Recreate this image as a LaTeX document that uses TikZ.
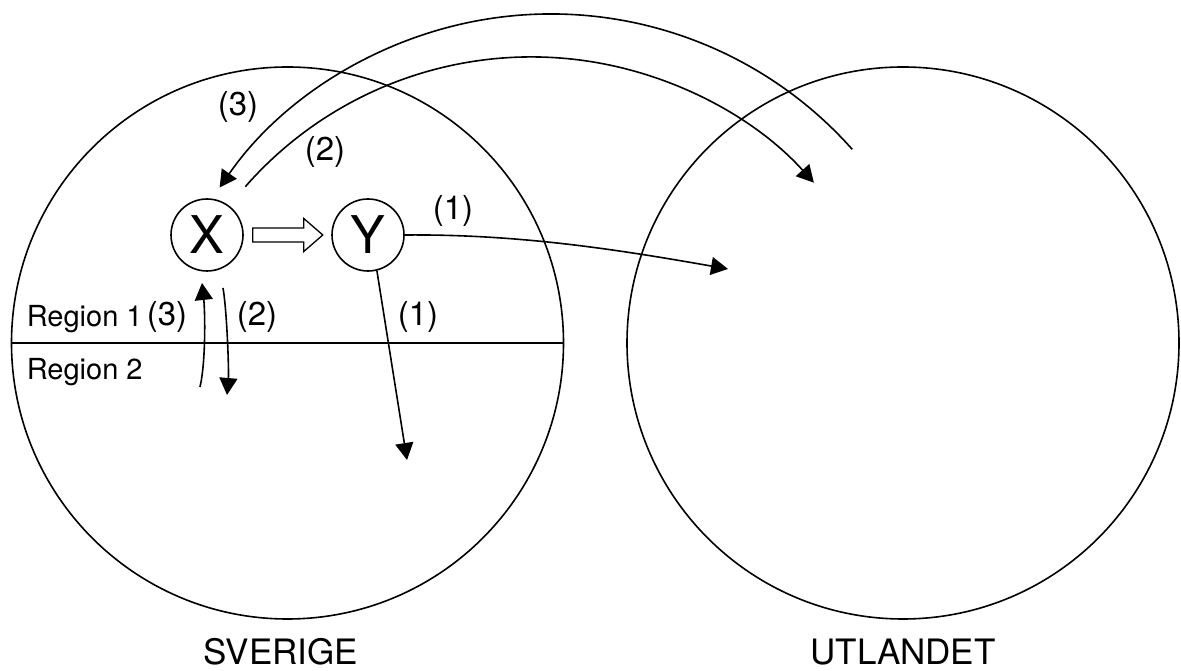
\documentclass[tikz,border=0pt]{standalone}
\usepackage{fontspec}
\setmainfont{TeX Gyre Heros}
\usetikzlibrary{arrows.meta,calc}
\begin{document}
\begin{tikzpicture}[x=1pt,y=1pt,
  line width=1.6pt,
  land/.style={draw, circle, minimum size=552pt, inner sep=0pt},
  var/.style={draw, circle, minimum size=72pt, inner sep=0pt, font=\fontsize{52}{54}\selectfont},
  lbl/.style={font=\fontsize{33}{35}\selectfont, inner sep=0pt},
  reg/.style={font=\fontsize{29}{31}\selectfont, inner sep=0pt, anchor=base west},
  country/.style={font=\fontsize{35}{37}\selectfont, inner sep=0pt, anchor=base},
  flow/.style={-{Triangle[length=17pt,width=18pt]}},
]
\useasboundingbox (0,0) rectangle (1181,671);
\node[land] (S) at (287.5,328) {};
\node[land] (U) at (903,328) {};
\draw[line width=1.2pt] (S.west) -- (S.east);
\node[var] (X) at (207,436) {X};
\node[var] (Y) at (368,436) {Y};
% hollow arrow X => Y
\coordinate (h0) at ($(X.east)+(9,0)$);
\draw[line width=1.3pt] (h0) ++(0,7) -- ++(51,0) -- ++(0,9.5) -- ++(19,-16.5) -- ++(-19,-16.5) -- ++(0,9.5) -- ++(-51,0) -- cycle;
% region flows
\coordinate (a3s) at (200,284);
\coordinate (a3e) at (202,388);
\draw[flow] (a3s) .. controls (206,310) and (205,360) .. (a3e);
\coordinate (a2s) at (223,383);
\coordinate (a2e) at (227,276);
\draw[flow] (a2s) .. controls (227,360) and (229,300) .. (a2e);
% flows from Y
\coordinate (d1e) at (407,211);
\draw[flow] (Y.-76) -- (d1e);
\coordinate (r1e) at (728,402);
\draw[flow] (Y.east) .. controls (520,437) and (620,421) .. (r1e);
% big arcs
\coordinate (b3s) at (852.3,521.6);
\draw[flow] (b3s) arc[start angle=41.6, end angle=145.3, radius=403];
\coordinate (b2s) at (245.3,484.3);
\draw[flow] (b2s) arc[start angle=138.8, end angle=42, radius=380.2];
% labels
\node[lbl] (l3a) at (238,564) {(3)};
\node[lbl] (l2a) at (325,519) {(2)};
\node[lbl] (l1a) at (453,460) {(1)};
\node[lbl] (l1b) at (418,354) {(1)};
\node[reg] (r1) at (26,344) {Region 1};
\node[lbl] (l3b) at (167,354) {(3)};
\node[lbl] (l2b) at (257,354) {(2)};
\node[reg] (r2) at (26,291) {Region 2};
\node[country] (sv) at (281,6) {SVERIGE};
\node[country] (ut) at (903,6) {UTLANDET};
\end{tikzpicture}
\end{document}
